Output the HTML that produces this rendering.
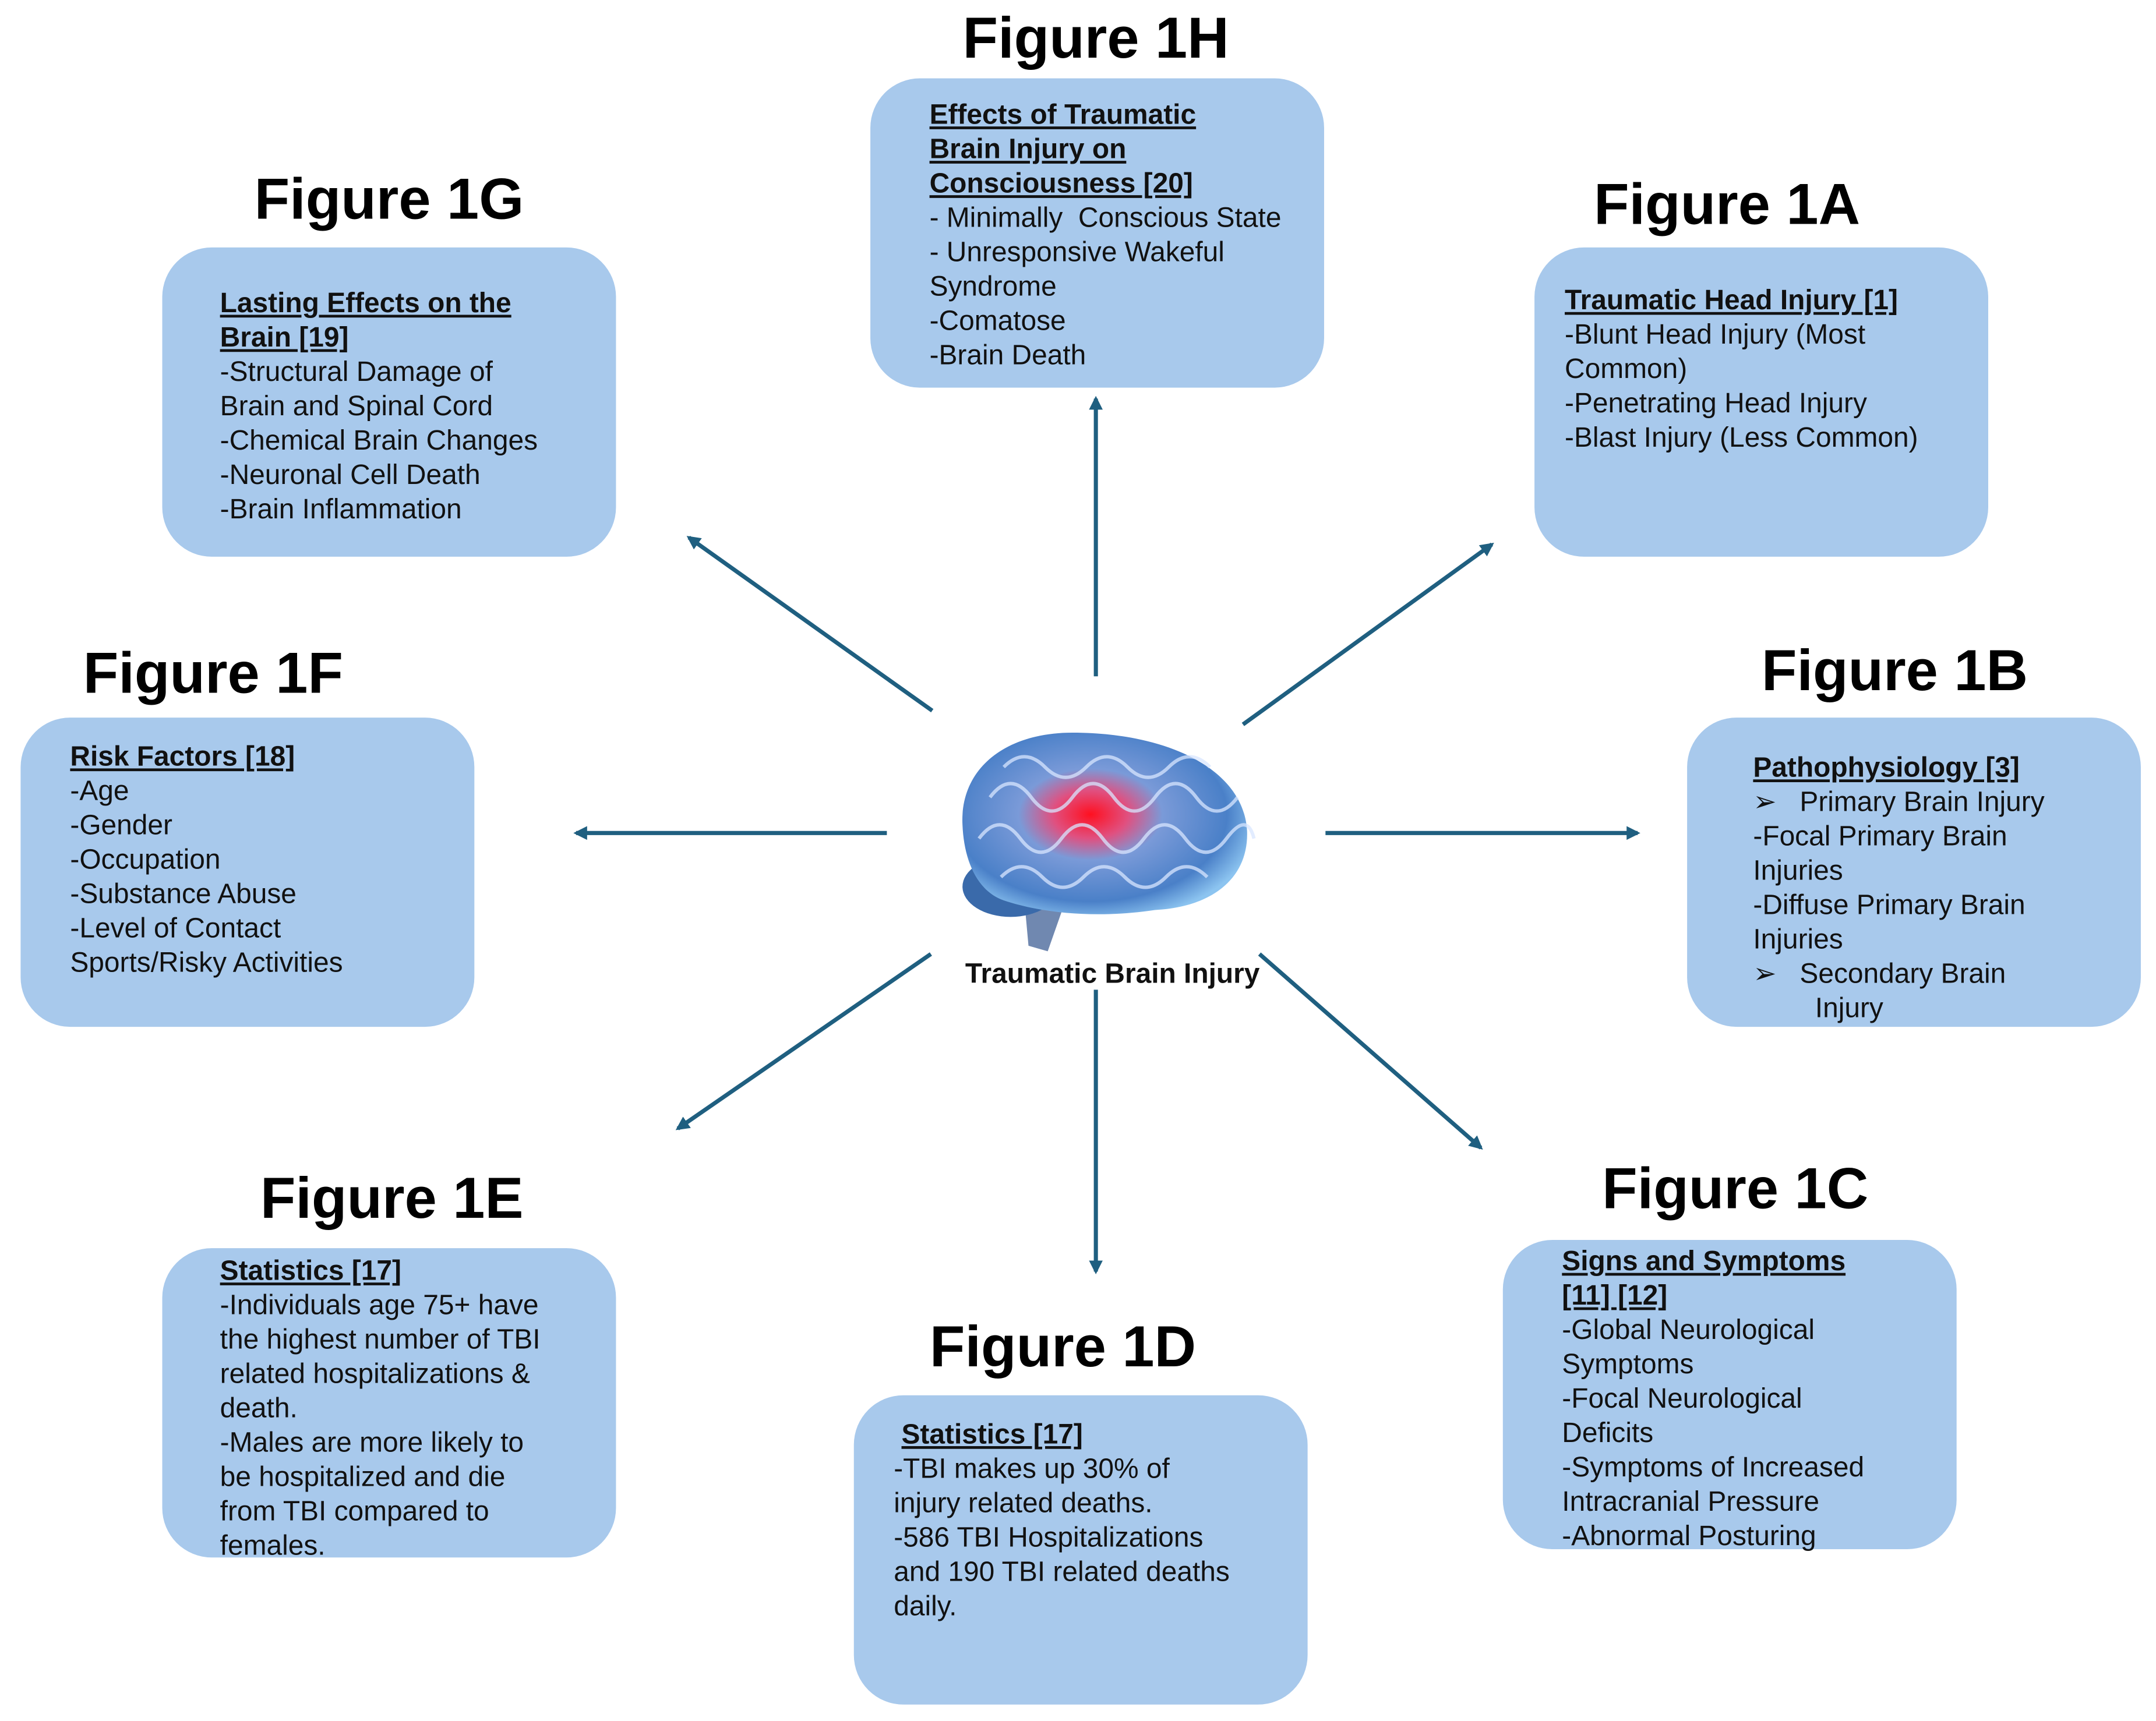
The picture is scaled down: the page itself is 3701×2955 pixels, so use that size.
<!DOCTYPE html>
<html><head><meta charset="utf-8">
<style>
html,body{margin:0;padding:0;background:#fff;}
body{width:3701px;height:2955px;overflow:hidden;position:relative;}
#w{position:absolute;left:0;top:0;width:1568px;height:1252px;transform:scale(2.3603);transform-origin:0 0;font-family:"Liberation Sans",Arial,sans-serif;}
.box{position:absolute;width:330px;height:225px;background:#a8c9ec;border-radius:36px;}
.t{position:absolute;font-size:20.3px;line-height:25px;color:#111;white-space:nowrap;}
.t b{text-decoration:underline;}
.fig{position:absolute;font-size:42px;font-weight:bold;color:#000;white-space:nowrap;transform:translateX(-50%);}
svg{position:absolute;left:0;top:0;}
</style></head><body><div id="w">
<svg width="1568" height="1252">
<defs>
<marker id="a" markerWidth="10" markerHeight="10" refX="8" refY="5" orient="auto" markerUnits="userSpaceOnUse">
<path d="M0,0 L10,5 L0,10 z" fill="#1f5f80"/></marker>
<radialGradient id="br" cx="0.45" cy="0.45" r="0.6">
<stop offset="0" stop-color="#ff1020"/><stop offset="0.22" stop-color="#e05080"/><stop offset="0.42" stop-color="#7a9ad8"/><stop offset="0.8" stop-color="#4a80c8"/><stop offset="1" stop-color="#8cc4f0"/></radialGradient>
</defs>
<g stroke="#1f5f80" stroke-width="3" marker-end="url(#a)">
<line x1="797" y1="492" x2="797" y2="290"/>
<line x1="904" y1="527" x2="1085" y2="396"/>
<line x1="964" y1="606" x2="1191" y2="606"/>
<line x1="916" y1="694" x2="1077" y2="835"/>
<line x1="797" y1="720" x2="797" y2="925"/>
<line x1="677" y1="694" x2="493" y2="821"/>
<line x1="645" y1="606" x2="419" y2="606"/>
<line x1="678" y1="517" x2="501" y2="391"/>
</g>
<path d="M745,655 L775,655 L762,692 L748,688 z" fill="#7088b0"/>
<ellipse cx="735" cy="645" rx="35" ry="22" fill="#3a6aaa"/>
<path d="M700,600 C698,560 730,533 780,533 C850,533 905,560 907,605 C908,640 880,660 840,662 C800,668 760,665 730,655 C710,648 701,625 700,600 z" fill="url(#br)"/>
<g fill="none" stroke="#d8e6ff" stroke-width="2.5" opacity="0.75">
<path d="M720,580 q15,-20 30,0 t30,0 t30,0 t30,0 t30,0 t30,0"/>
<path d="M712,610 q15,-20 30,0 t30,0 t30,0 t30,0 t30,0 t30,0 t20,0"/>
<path d="M730,558 q15,-15 30,0 t30,0 t30,0 t30,0 t30,0"/>
<path d="M728,638 q15,-15 30,0 t30,0 t30,0 t30,0 t30,0"/>
</g>
</svg>
<div class="t" style="left:702px;top:697px;font-weight:bold;">Traumatic Brain Injury</div>

<div class="fig" style="left:797px;top:4px;">Figure 1H</div>
<div class="box" style="left:633px;top:57px;"></div>
<div class="t" style="left:676px;top:72px;"><b>Effects of Traumatic</b><br><b>Brain Injury on</b><br><b>Consciousness [20]</b><br>- Minimally&nbsp; Conscious State<br>- Unresponsive Wakeful<br>Syndrome<br>-Comatose<br>-Brain Death</div>

<div class="fig" style="left:283px;top:121px;">Figure 1G</div>
<div class="box" style="left:118px;top:180px;"></div>
<div class="t" style="left:160px;top:209px;"><b>Lasting Effects on the</b><br><b>Brain [19]</b><br>-Structural Damage of<br>Brain and Spinal Cord<br>-Chemical Brain Changes<br>-Neuronal Cell Death<br>-Brain Inflammation</div>

<div class="fig" style="left:1256px;top:125px;">Figure 1A</div>
<div class="box" style="left:1116px;top:180px;"></div>
<div class="t" style="left:1138px;top:207px;"><b>Traumatic Head Injury [1]</b><br>-Blunt Head Injury (Most<br>Common)<br>-Penetrating Head Injury<br>-Blast Injury (Less Common)</div>

<div class="fig" style="left:155px;top:466px;">Figure 1F</div>
<div class="box" style="left:15px;top:522px;"></div>
<div class="t" style="left:51px;top:539px;"><b>Risk Factors [18]</b><br>-Age<br>-Gender<br>-Occupation<br>-Substance Abuse<br>-Level of Contact<br>Sports/Risky Activities</div>

<div class="fig" style="left:1378px;top:464px;">Figure 1B</div>
<div class="box" style="left:1227px;top:522px;"></div>
<div class="t" style="left:1275px;top:547px;"><b>Pathophysiology [3]</b><br>➢&nbsp;&nbsp; Primary Brain Injury<br>-Focal Primary Brain<br>Injuries<br>-Diffuse Primary Brain<br>Injuries<br>➢&nbsp;&nbsp; Secondary Brain<br>&nbsp;&nbsp;&nbsp;&nbsp;&nbsp;&nbsp;&nbsp; Injury</div>

<div class="fig" style="left:285px;top:848px;">Figure 1E</div>
<div class="box" style="left:118px;top:908px;"></div>
<div class="t" style="left:160px;top:913px;"><b>Statistics [17]</b><br>-Individuals age 75+ have<br>the highest number of TBI<br>related hospitalizations &amp;<br>death.<br>-Males are more likely to<br>be hospitalized and die<br>from TBI compared to<br>females.</div>

<div class="fig" style="left:773px;top:956px;">Figure 1D</div>
<div class="box" style="left:621px;top:1015px;"></div>
<div class="t" style="left:650px;top:1032px;">&nbsp;<b>Statistics [17]</b><br>-TBI makes up 30% of<br>injury related deaths.<br>-586 TBI Hospitalizations<br>and 190 TBI related deaths<br>daily.</div>

<div class="fig" style="left:1262px;top:841px;">Figure 1C</div>
<div class="box" style="left:1093px;top:902px;"></div>
<div class="t" style="left:1136px;top:906px;"><b>Signs and Symptoms</b><br><b>[11] [12]</b><br>-Global Neurological<br>Symptoms<br>-Focal Neurological<br>Deficits<br>-Symptoms of Increased<br>Intracranial Pressure<br>-Abnormal Posturing</div>
</div></body></html>
